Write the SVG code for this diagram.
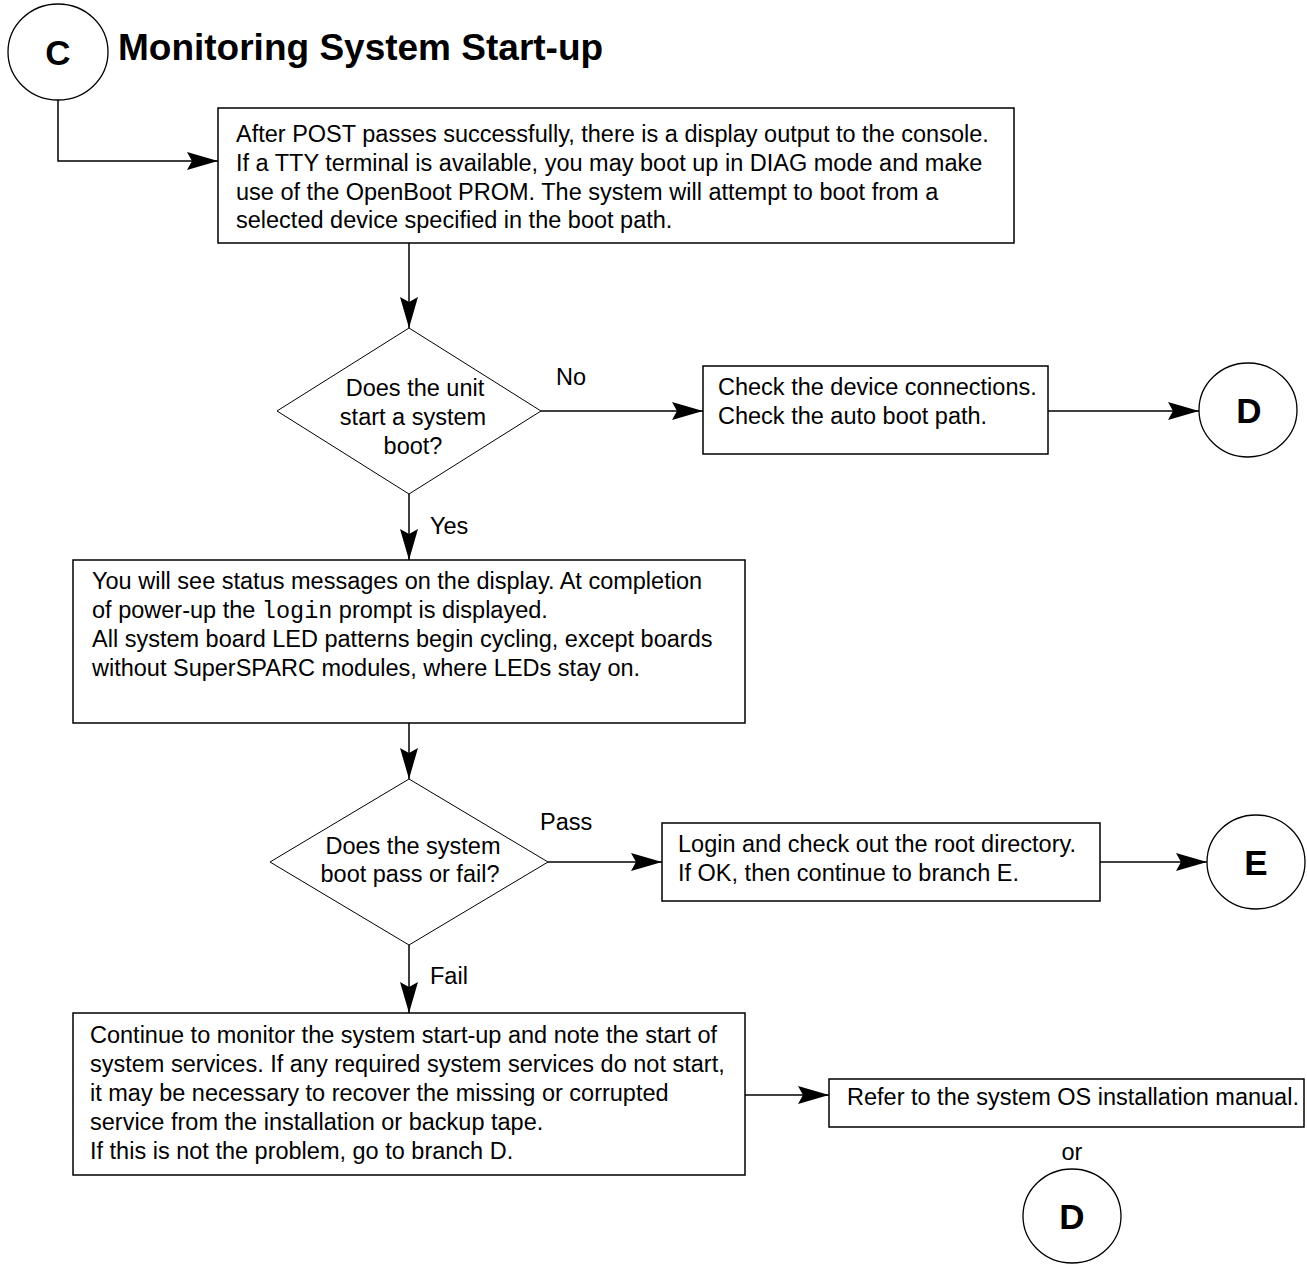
<svg xmlns="http://www.w3.org/2000/svg" width="1307" height="1264" viewBox="0 0 1307 1264">
<style>
  .bg{fill:#fff}
  .box{fill:#fff;stroke:#000;stroke-width:1.5}
  .dia{fill:#fff;stroke:#000;stroke-width:1}
  .circ{fill:#fff;stroke:#000;stroke-width:1.3}
  .t{font-family:"Liberation Sans",Arial,Helvetica,sans-serif;font-size:23.5px;fill:#000}
  .m{font-family:"Liberation Mono","Courier New",monospace}
  .mid{text-anchor:middle}
  .lbl{font-family:"Liberation Sans",Arial,Helvetica,sans-serif;font-size:35px;font-weight:bold;text-anchor:middle;fill:#000}
  .title{font-family:"Liberation Sans",Arial,Helvetica,sans-serif;font-size:37px;font-weight:bold;fill:#000}
  .ln{fill:none;stroke:#000;stroke-width:1.5;marker-end:url(#ah)}
</style>
<defs>
  <marker id="ah" markerUnits="userSpaceOnUse" markerWidth="32" markerHeight="20" refX="31" refY="9" orient="auto">
    <path d="M0,0 L31,9 L0,18 L5,9 Z" fill="#000"/>
  </marker>
</defs>
<rect class="bg" x="0" y="0" width="1307" height="1264"/>

<g id="connectors">
  <polyline class="ln" points="58,100 58,161 218,161"/>
  <line class="ln" x1="409" y1="243" x2="409" y2="328"/>
  <line class="ln" x1="541" y1="411" x2="703" y2="411"/>
  <line class="ln" x1="1048" y1="411" x2="1199" y2="411"/>
  <line class="ln" x1="409" y1="494" x2="409" y2="560"/>
  <line class="ln" x1="409" y1="723" x2="409" y2="779"/>
  <line class="ln" x1="548" y1="862" x2="662" y2="862"/>
  <line class="ln" x1="1100" y1="862" x2="1207" y2="862"/>
  <line class="ln" x1="409" y1="945" x2="409" y2="1013"/>
  <line class="ln" x1="745" y1="1095" x2="829" y2="1095"/>
  <text class="t" x="556" y="385">No</text>
  <text class="t" x="430" y="534">Yes</text>
  <text class="t" x="540" y="830">Pass</text>
  <text class="t" x="430" y="984">Fail</text>
</g>

<g id="nodeC">
  <ellipse class="circ" cx="58" cy="52" rx="50" ry="48"/>
  <text class="lbl" x="58" y="65">C</text>
</g>
<g id="title">
  <text class="title" x="118" y="60">Monitoring System Start-up</text>
</g>

<g id="box1">
  <rect class="box" x="218" y="108" width="796" height="135"/>
  <text class="t" x="236" y="142">After POST passes successfully, there is a display output to the console.</text>
  <text class="t" x="236" y="171">If a TTY terminal is available, you may boot up in DIAG mode and make</text>
  <text class="t" x="236" y="200">use of the OpenBoot PROM. The system will attempt to boot from a</text>
  <text class="t" x="236" y="228">selected device specified in the boot path.</text>
</g>

<g id="decision1">
  <polygon class="dia" points="409,328 541,411 409,494 277,411"/>
  <text class="t mid" x="415" y="396">Does the unit</text>
  <text class="t mid" x="413" y="425">start a system</text>
  <text class="t mid" x="413" y="454">boot?</text>
</g>

<g id="box2">
  <rect class="box" x="703" y="366" width="345" height="88"/>
  <text class="t" x="718" y="395">Check the device connections.</text>
  <text class="t" x="718" y="424">Check the auto boot path.</text>
</g>

<g id="nodeD1">
  <ellipse class="circ" cx="1248" cy="410" rx="49" ry="47"/>
  <text class="lbl" x="1249" y="423">D</text>
</g>

<g id="box3">
  <rect class="box" x="73" y="560" width="672" height="163"/>
  <text class="t" x="92" y="589">You will see status messages on the display. At completion</text>
  <text class="t" x="92" y="618">of power-up the <tspan class="m">login</tspan> prompt is displayed.</text>
  <text class="t" x="92" y="647">All system board LED patterns begin cycling, except boards</text>
  <text class="t" x="92" y="676">without SuperSPARC modules, where LEDs stay on.</text>
</g>

<g id="decision2">
  <polygon class="dia" points="409,779 548,862 409,945 270,862"/>
  <text class="t mid" x="413" y="854">Does the system</text>
  <text class="t mid" x="410" y="882">boot pass or fail?</text>
</g>

<g id="box4">
  <rect class="box" x="662" y="823" width="438" height="78"/>
  <text class="t" x="678" y="852">Login and check out the root directory.</text>
  <text class="t" x="678" y="881">If OK, then continue to branch E.</text>
</g>

<g id="nodeE">
  <ellipse class="circ" cx="1256" cy="862" rx="49" ry="47"/>
  <text class="lbl" x="1256" y="875">E</text>
</g>

<g id="box5">
  <rect class="box" x="73" y="1013" width="672" height="162"/>
  <text class="t" x="90" y="1043">Continue to monitor the system start-up and note the start of</text>
  <text class="t" x="90" y="1072">system services. If any required system services do not start,</text>
  <text class="t" x="90" y="1101">it may be necessary to recover the missing or corrupted</text>
  <text class="t" x="90" y="1130">service from the installation or backup tape.</text>
  <text class="t" x="90" y="1159">If this is not the problem, go to branch D.</text>
</g>

<g id="box6">
  <rect class="box" x="829" y="1079" width="475" height="48"/>
  <text class="t" x="847" y="1105">Refer to the system OS installation manual.</text>
</g>

<g id="or">
  <text class="t mid" x="1072" y="1160">or</text>
</g>

<g id="nodeD2">
  <ellipse class="circ" cx="1072" cy="1216" rx="49" ry="47"/>
  <text class="lbl" x="1072" y="1229">D</text>
</g>
</svg>
